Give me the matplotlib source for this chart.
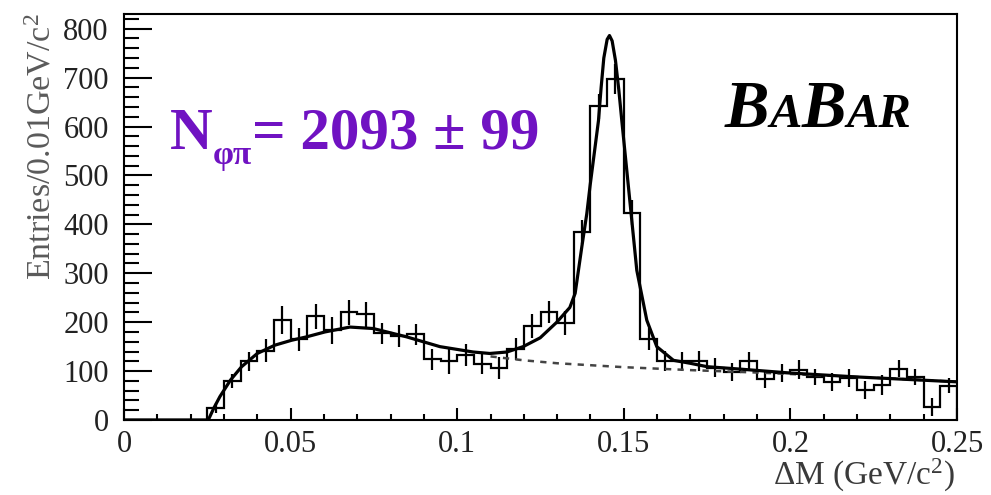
import matplotlib
matplotlib.use('Agg')
import matplotlib.pyplot as plt
from matplotlib.ticker import MultipleLocator
import numpy as np

plt.rcParams['font.family'] = ['Liberation Serif', 'DejaVu Serif']
plt.rcParams['mathtext.fontset'] = 'custom'
plt.rcParams['mathtext.rm'] = 'Liberation Serif'
plt.rcParams['mathtext.it'] = 'Liberation Serif:italic'
plt.rcParams['mathtext.bf'] = 'Liberation Serif:bold'

# histogram: 50 bins of 0.005 GeV/c^2 from 0 to 0.25
bin_lo, bin_hi, n_bins = 0.0, 0.25, 50
entries = [0, 0, 0, 0, 0, 24, 80, 120, 142, 205,
           165, 212, 183, 220, 216, 177, 172, 175, 124, 120,
           133, 114, 106, 145, 192, 221, 198, 384, 641, 697,
           424, 166, 121, 120, 121, 107, 98, 121, 84, 96,
           103, 88, 78, 86, 61, 72, 105, 88, 26, 70]
errors = [0, 0, 0, 0, 0, 10, 15, 19, 24, 29,
          24, 25, 27, 25, 25, 22, 22, 22, 22, 25,
          22, 20, 22, 23, 24, 22, 25, 25, 25, 30,
          25, 22, 20, 20, 20, 19, 19, 19, 19, 19,
          20, 17, 18, 18, 18, 20, 18, 17, 18, 15]

# total fit curve
fit_x = [0.0, 0.0253, 0.0270, 0.0288, 0.0320, 0.0353, 0.0400, 0.0453, 0.0503,
         0.0548, 0.0603, 0.0678, 0.0748, 0.0848, 0.0948, 0.1048, 0.1098,
         0.1149, 0.1198, 0.1249, 0.1299, 0.1338, 0.1354, 0.1374, 0.1389,
         0.1399, 0.1424, 0.1432, 0.1440, 0.1450, 0.1457, 0.1465, 0.1475,
         0.1485, 0.1494, 0.1514, 0.1539, 0.1569, 0.1599, 0.1649, 0.1699,
         0.175, 0.185, 0.200, 0.220, 0.250]
fit_y = [0, 0, 25, 48, 82, 109, 136, 153, 163,
         170, 180, 190, 187, 170, 150, 139, 136,
         139, 150, 168, 200, 230, 259, 354, 422,
         480, 612, 680, 740, 778, 786, 775, 735,
         675, 612, 476, 306, 204, 150, 122, 116,
         109, 104, 96, 88, 78]

# background component (dashed)
bkg_x = [0.110, 0.120, 0.130, 0.150, 0.170, 0.190, 0.210, 0.230, 0.250]
bkg_y = [130, 122, 116, 108, 102, 97, 91, 85, 78]

x_ticks = [0, 0.05, 0.1, 0.15, 0.2, 0.25]
x_tick_labels = ['0', '0.05', '0.1', '0.15', '0.2', '0.25']

W, H = 991, 495
fig = plt.figure(figsize=(W / 100, H / 100), dpi=100)
ax = fig.add_axes([124 / W, 1 - 420 / H, (957 - 124) / W, (420 - 14) / H])

edges = np.linspace(bin_lo, bin_hi, n_bins + 1)
centers = 0.5 * (edges[:-1] + edges[1:])
entries = np.array(entries, dtype=float)
errors = np.array(errors, dtype=float)

ax.stairs(entries, edges, color='black', lw=1.6, baseline=0)
m = entries > 0
ax.errorbar(centers[m], entries[m], yerr=errors[m], fmt='none',
            ecolor='black', elinewidth=1.6, capsize=0)
ax.plot(bkg_x, bkg_y, color='#444444', lw=1.8, ls=(0, (2.5, 2.5)))
ax.plot(fit_x, fit_y, color='black', lw=2.3, solid_joinstyle='round')

ax.set_xlim(0, 0.25)
ax.set_ylim(0, 830)
ax.set_xticks(x_ticks)
ax.set_xticklabels(x_tick_labels)
ax.xaxis.set_minor_locator(MultipleLocator(0.01))
ax.yaxis.set_major_locator(MultipleLocator(100))
ax.yaxis.set_minor_locator(MultipleLocator(20))
ax.tick_params(which='both', direction='in', top=False, right=False,
               width=1.5, color='black', labelsize=22, labelcolor='#222222')
ax.tick_params(axis='y', which='major', length=20, pad=11)
ax.tick_params(axis='y', which='minor', length=10.5)
ax.tick_params(axis='x', which='major', length=8.5, pad=7)
ax.tick_params(axis='x', which='minor', length=4.3)
for sp in ax.spines.values():
    sp.set_linewidth(1.5)

fig.text(42 / W, 1 - 13 / H, 'Entries/0.01GeV/c$^{2}$', rotation=90,
         ha='center', va='top', fontsize=24.5, color='#5a5a5a')
fig.text(955 / W, 1 - 485 / H, '\u0394M (GeV/c$^{2}$)', ha='right',
         va='baseline', fontsize=24, color='#3a3a3a')

renderer = fig.canvas.get_renderer()


def run_text(pieces, x0, y0):
    # pieces: (text, size, baseline shift in px, style kwargs)
    x = x0
    for s, size, dy, kw in pieces:
        t = fig.text(x / W, 1 - (y0 + dy) / H, s, fontsize=size,
                     ha='left', va='baseline', **kw)
        x = t.get_window_extent(renderer).x1


purple = '#7012c2'
bold = dict(fontweight='bold', color=purple)
run_text([('N', 42.5, 0, bold),
          ('\u03c6\u03c0', 24, 15, bold),
          ('= 2093 \u00b1 99', 42.5, 0, bold)], 170, 149)

logo = dict(fontweight='bold', fontstyle='italic', color='black')
run_text([('B', 48, 0, logo), ('A', 35, 0, logo),
          ('B', 48, 0, logo), ('AR', 35, 0, logo)], 725, 127)

fig.savefig('out.png', dpi=100)
